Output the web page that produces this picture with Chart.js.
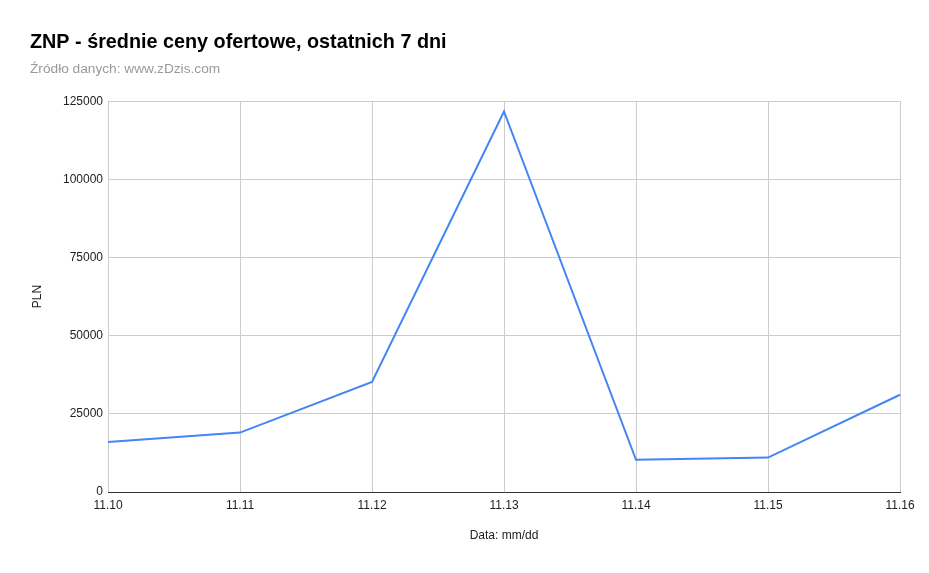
<!DOCTYPE html>
<html>
<head>
<meta charset="utf-8">
<script src="https://cdn.jsdelivr.net/npm/chart.js@4/dist/chart.umd.min.js"></script>
<style>
html,body{margin:0;padding:0;background:#fff;}
canvas{display:block;}
</style>
</head>
<body>
<canvas id="c" width="929" height="573"></canvas>
<script>
const categories = ['11.10', '11.11', '11.12', '11.13', '11.14', '11.15', '11.16'];
const prices = [16000, 19000, 35200, 121700, 10300, 11000, 31100];
const yMin = 0;
const yMax = 125000;
const yStep = 25000;

const FONT = "'Liberation Sans', Arial, sans-serif";

new Chart(document.getElementById('c'), {
  type: 'line',
  data: {
    labels: categories,
    datasets: [{
      label: 'PLN',
      data: prices,
      borderColor: '#4285F4',
      borderWidth: 2,
      pointRadius: 0,
      tension: 0,
      fill: false
    }]
  },
  options: {
    responsive: false,
    animation: false,
    layout: { padding: { top: 20, left: 30, right: 29, bottom: 20 } },
    plugins: {
      legend: { display: false },
      tooltip: { enabled: false },
      title: {
        display: true,
        text: 'ZNP - średnie ceny ofertowe, ostatnich 7 dni',
        align: 'start',
        color: '#000',
        font: { family: FONT, size: 19.8, weight: 'bold' },
        padding: { top: 11, bottom: 6 }
      },
      subtitle: {
        display: true,
        text: 'Źródło danych: www.zDzis.com',
        align: 'start',
        color: '#999',
        font: { family: FONT, size: 13.7 },
        padding: { top: 0, bottom: 24 }
      }
    },
    scales: {
      x: {
        type: 'category',
        offset: false,
        grid: { color: '#cccccc', drawTicks: false },
        border: { display: true, color: '#333333', width: 1 },
        ticks: { color: '#222', font: { family: FONT, size: 12 }, padding: 6, maxRotation: 0, autoSkip: false },
        title: { display: true, text: 'Data: mm/dd', color: '#222', font: { family: FONT, size: 12 }, padding: { top: 4, bottom: 10 } },
        afterFit: (s) => { s.height = 61; }
      },
      y: {
        min: yMin,
        max: yMax,
        grid: { color: '#cccccc', drawTicks: false },
        border: { display: false },
        ticks: { stepSize: yStep, color: '#222', font: { family: FONT, size: 12 }, padding: 5, callback: (v) => String(v) },
        title: { display: true, text: 'PLN', color: '#222', font: { family: FONT, size: 12 }, padding: { top: 0, bottom: 0 } },
        afterFit: (s) => { s.width = 78; }
      }
    }
  }
});
</script>
</body>
</html>
